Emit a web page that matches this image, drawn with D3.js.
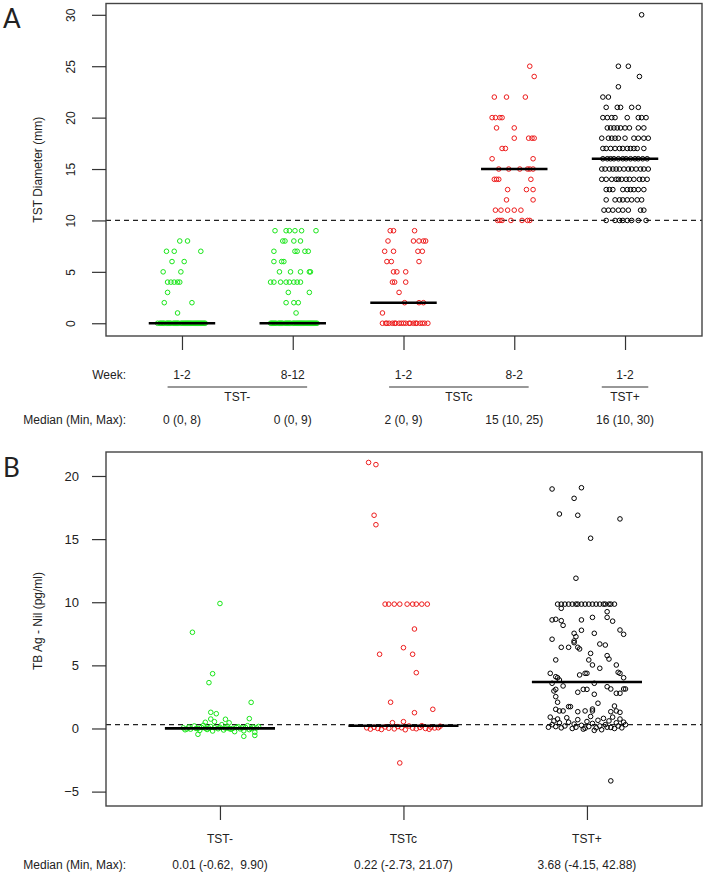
<!DOCTYPE html>
<html><head><meta charset="utf-8">
<script src="https://cdn.jsdelivr.net/npm/d3@7"></script>
<style>
body{margin:0;background:#fff}
svg{display:block}
text{font-family:"Liberation Sans",Arial,sans-serif;fill:#222}
</style>
</head><body>
<svg id="c" width="706" height="877"></svg>
<script>
// ---------------- DATA ----------------
// Panel A: TST diameter (mm); rows of [value, [horizontal jitter offsets in category units]]
const yTicksA = [0, 5, 10, 15, 20, 25, 30];
const weekLabelsA = ["1-2", "8-12", "1-2", "8-2", "1-2"];
const groupNamesA = ["TST-", "TSTc", "TST+"];
const groupSpanA = [[1, 2], [3, 4], [5, 5]];
const medianTextA = ["0 (0, 8)", "0 (0, 9)", "2 (0, 9)", "15 (10, 25)", "16 (10, 30)"];
const mediansA = [0, 0, 2, 15, 16];
const cutoffA = 10;

const tstNegWk1 = [
  [8, [-0.02, 0.05]],
  [7, [-0.14, -0.07, 0.17]],
  [6, [-0.09, 0.02]],
  [5, [-0.17, -0.01]],
  [4, [-0.13, -0.10, -0.07, -0.04, -0.02]],
  [3, [-0.13]],
  [2, [-0.16, 0.09]],
  [1, [-0.04]],
  [0, [-0.22, -0.2, -0.19, -0.17, -0.16, -0.14, -0.13, -0.11, -0.1, -0.08, -0.07, -0.05, -0.04, -0.03, -0.01, 0, 0.02, 0.03, 0.04, 0.06,
       0.07, 0.09, 0.1, 0.11, 0.13, 0.14, 0.16, 0.17, 0.19, 0.2, 0.21, -0.18, -0.12, -0.06, 0.01, 0.05, 0.08, 0.12, 0.15, 0.18]]
];
const tstNegWk8 = [
  [9, [-0.16, -0.06, -0.03, 0.02, 0.08, 0.21]],
  [8, [-0.09, -0.07, 0.01, 0.07]],
  [7, [-0.17, 0.02, 0.04, 0.11, 0.14]],
  [6, [-0.17, -0.1, -0.08]],
  [5, [-0.12, -0.02, 0.07, 0.15, 0.16]],
  [4, [-0.2, -0.17, -0.11, -0.06, -0.03, 0.01, 0.04, 0.07]],
  [3, [-0.04, 0.15]],
  [2, [-0.06, 0.01, 0.05]],
  [1, [0.03]],
  [0, [-0.2, -0.19, -0.17, -0.16, -0.15, -0.13, -0.12, -0.1, -0.09, -0.07, -0.06, -0.04, -0.03, -0.02, 0, 0.01, 0.03, 0.04, 0.06, 0.07,
       0.08, 0.1, 0.11, 0.12, 0.14, 0.15, 0.17, 0.18, 0.19, 0.21, 0.22, -0.18, -0.11, -0.05, 0.02, 0.05, 0.09, 0.13, 0.16, 0.2]]
];
const tstConvWk1 = [
  [9, [-0.12, -0.09, 0.1]],
  [8, [-0.14, 0.09, 0.14, 0.18, 0.2]],
  [7, [-0.17, -0.09, 0.13, 0.17]],
  [6, [-0.15, -0.11, 0.14]],
  [5, [-0.09, -0.06, 0.02]],
  [4, [-0.1, -0.08, 0.02]],
  [3, [-0.04]],
  [2, [0.01, 0.14, 0.18]],
  [1, [-0.19]],
  [0, [-0.19, -0.16, -0.15, -0.13, -0.1, -0.08, -0.07, -0.04, -0.02, 0, 0.02, 0.05, 0.06, 0.09, 0.11, 0.12, 0.15, 0.17, 0.19, 0.22]]
];
const tstConvWk8 = [
  [25, [0.14]],
  [24, [0.18]],
  [22, [-0.18, -0.07, 0.1]],
  [20, [-0.2, -0.17, -0.13, -0.11]],
  [19, [-0.16, 0]],
  [18, [0, 0.13, 0.16, 0.18]],
  [17, [-0.11, -0.08]],
  [16, [-0.2, 0.17]],
  [15, [-0.14, -0.05, 0.05, 0.12, 0.14, 0.17]],
  [14, [-0.18, -0.16, -0.14, 0.15]],
  [13, [-0.06, 0.11, 0.17]],
  [12, [-0.07, 0.17]],
  [11, [-0.17, -0.12, -0.06, 0, 0.06]],
  [10, [-0.15, -0.13, -0.11, -0.03, 0.07, 0.12, 0.14]]
];
const tstPosWk1 = [
  [30, [0.15]],
  [25, [-0.06, 0.03]],
  [24, [0.13]],
  [23, [-0.06]],
  [22, [-0.2, -0.15]],
  [21, [-0.17, -0.07, -0.04, 0.06, 0.12]],
  [20, [-0.2, -0.16, -0.12, -0.09, 0.02, 0.12, 0.15, 0.19]],
  [19, [-0.16, -0.13, -0.1, -0.07, -0.04, 0, 0.04, 0.12, 0.17]],
  [18, [-0.21, -0.15, -0.12, -0.09, -0.06, 0, 0.08, 0.12, 0.17, 0.21]],
  [17, [-0.2, -0.17, -0.13, -0.09, -0.05, -0.02, 0.02, 0.05, 0.08, 0.11, 0.17]],
  [16, [-0.2, -0.16, -0.13, -0.1, -0.06, -0.02, 0.01, 0.05, 0.09, 0.12, 0.16, 0.2]],
  [15, [-0.21, -0.18, -0.14, -0.11, -0.08, -0.05, -0.01, 0.03, 0.06, 0.1, 0.14, 0.17, 0.21]],
  [14, [-0.21, -0.17, -0.12, -0.08, -0.06, -0.03, 0.01, 0.04, 0.08, 0.13, 0.16, 0.2]],
  [13, [-0.17, -0.14, -0.11, -0.02, 0.02, 0.05, 0.08, 0.12, 0.17]],
  [12, [-0.17, -0.09, -0.05, -0.02, 0.02, 0.06, 0.11, 0.15]],
  [11, [-0.19, -0.15, -0.11, -0.06, -0.02, 0.03, 0.14, 0.17]],
  [10, [-0.17, -0.09, -0.05, -0.02, 0.02, 0.06, 0.12, 0.19]]
];

// Panel B: TB Ag - Nil; points of [value, jitter offset in category units]
const yTicksB = [-5, 0, 5, 10, 15, 20];
const groupNamesB = ["TST-", "TSTc", "TST+"];
const medianTextB = ["0.01 (-0.62,  9.90)", "0.22 (-2.73, 21.07)", "3.68 (-4.15, 42.88)"];
const mediansB = [0.01, 0.22, 3.68];
const cutoffB = 0.3;

const igraNeg = [
  [9.9, 0], [7.62, -0.15], [4.34, -0.04], [3.63, -0.06], [2.07, 0.17], [1.28, -0.05], [1.17, -0.02], [0.73, 0.03], [0.78, 0.16],
  [0.75, -0.05], [0.49, -0.08], [0.54, -0.03], [0.45, 0.05], [-0.46, -0.12], [-0.62, 0.13], [-0.55, 0.19],
  [0.05, -0.2], [-0.1, -0.19], [0.12, -0.17], [-0.05, -0.16], [0.2, -0.14], [0, -0.13], [-0.15, -0.11], [0.08, -0.1], [0.25, -0.09],
  [-0.08, -0.07], [0.02, -0.06], [0.15, -0.05], [-0.2, -0.04], [0.06, -0.03], [-0.02, -0.01], [0.1, 0], [0.3, 0.01], [-0.12, 0.02],
  [0.03, 0.03], [0.18, 0.04], [-0.06, 0.06], [0.01, 0.07], [-0.25, 0.08], [0.09, 0.09], [0.14, 0.1], [-0.03, 0.11], [0.04, 0.12],
  [-0.18, 0.13], [0.07, 0.14], [0.22, 0.15], [-0.09, 0.16], [0, 0.17], [0.11, 0.18], [-0.3, 0.19], [0.05, 0.2], [0.16, 0.21],
  [-0.04, -0.18], [0.01, -0.12], [-0.01, 0.05], [0.02, -0.08]
];
const igraConv = [
  [21.07, -0.19], [20.9, -0.15], [16.89, -0.16], [16.14, -0.15],
  [9.85, -0.1], [9.85, -0.08], [9.85, -0.05], [9.85, -0.02], [9.85, 0.02], [9.85, 0.05], [9.85, 0.07], [9.85, 0.1], [9.85, 0.13],
  [7.88, 0.06], [6.4, 0], [5.88, -0.13], [5.88, 0.05], [4.42, 0.07], [2.08, -0.07], [1.52, 0.16], [1.25, 0.06], [0.54, 0], [0.46, -0.06],
  [-2.73, -0.02],
  [0.05, -0.2], [-0.05, -0.18], [0.1, -0.16], [0, -0.14], [-0.08, -0.12], [0.12, -0.1], [0.02, -0.08], [-0.03, -0.05], [0.15, -0.03],
  [0.06, -0.01], [-0.1, 0.01], [0.2, 0.03], [0.03, 0.05], [-0.02, 0.07], [0.08, 0.09], [0.22, 0.1], [0, 0.12], [-0.06, 0.14],
  [0.1, 0.15], [0.04, 0.17], [0.18, 0.2], [0.06, 0.19]
];
const igraPos = [
  [18.97, -0.19], [19.07, -0.03], [18.23, -0.07], [16.99, -0.15], [16.89, -0.05], [16.6, 0.18], [15.07, 0.02], [11.9, -0.06],
  [9.85, -0.16], [9.85, -0.14], [9.85, -0.12], [9.85, -0.1], [9.85, -0.08], [9.85, -0.06], [9.85, -0.05], [9.85, -0.03], [9.85, -0.01],
  [9.85, 0.01], [9.85, 0.03], [9.85, 0.05], [9.85, 0.07], [9.85, 0.09], [9.85, 0.1], [9.85, 0.12], [9.85, 0.13], [9.85, 0.15],
  [9.52, -0.14], [9.25, 0.11], [8.8, 0.11], [8.8, 0.03], [8.6, -0.19], [8.65, -0.17], [8.54, -0.14], [8.17, -0.13], [8.6, -0.03], [8.5, 0.14],
  [7.78, -0.03], [7.54, -0.07], [7.27, -0.06], [7.54, 0.04], [7.8, 0.18], [7.46, 0.2], [7.07, -0.19], [6.93, -0.07], [6.8, -0.07],
  [6.69, 0.07], [6.61, 0.1], [6.43, -0.14], [6.43, -0.1], [6.43, -0.05], [6.3, -0.04], [5.95, 0.02], [5.43, -0.17], [5.43, 0.01],
  [5.03, 0.03], [4.77, 0.07], [5.77, 0.11], [5.5, 0.12], [5.03, 0.16], [4.37, -0.2], [4.1, -0.17], [4.02, -0.16], [3.84, -0.15],
  [4.24, -0.04], [4.37, -0.01], [4.37, 0], [4.45, 0.17], [4.37, 0.18], [4.02, 0.2],
  [3.58, -0.19], [3.37, -0.13], [2.97, -0.18], [3.1, -0.17], [2.87, -0.05], [3.1, -0.02], [3.1, 0], [3.58, 0.04], [2.71, 0.04],
  [3.31, 0.11], [3.13, 0.13], [2.79, 0.16], [3.13, 0.2], [3.13, 0.21], [2.79, 0.18], [2.52, -0.17], [2.08, -0.16], [1.52, -0.17],
  [1.39, -0.15], [1.39, -0.13], [1.73, -0.1], [1.73, -0.09], [1.33, -0.05], [1.39, -0.01], [1.39, 0.03], [1.54, 0.03], [2.0, 0.06],
  [1.78, 0.15], [1.33, 0.13], [1.39, 0.16], [1.28, 0.18], [-4.15, 0.13],
  [0.9, -0.2], [0.6, -0.18], [0.3, -0.19], [0.1, -0.21], [0.75, -0.16], [0.45, -0.15], [0.05, -0.14], [0.2, -0.12], [0.85, -0.11],
  [0.5, -0.1], [0, -0.08], [0.35, -0.07], [0.1, -0.06], [0.7, -0.05], [0.25, -0.03], [-0.05, -0.02], [0.55, 0], [0.15, 0.01],
  [0.95, 0.02], [0.4, 0.03], [0.05, 0.05], [0.65, 0.06], [0.2, 0.07], [-0.1, 0.08], [0.8, 0.09], [0.3, 0.1], [0.1, 0.11], [0.6, 0.12],
  [0.9, 0.14], [0, 0.15], [0.45, 0.16], [0.2, 0.17], [0.75, 0.18], [0.05, 0.19], [0.5, 0.2], [0.3, 0.21], [0.15, -0.17], [0.02, -0.01],
  [0.08, 0.13], [-0.15, 0.04]
];

// ---------------- DRAW ----------------
const GREEN = "#19e619", RED = "#ee1c1c", BLACK = "#000";
const svg = d3.select("#c");
svg.append("rect").attr("width", 706).attr("height", 877).attr("fill", "#fff");

const R = 2.3;
function drawPoints(g, pts, x, y, color) {
  g.selectAll(null).data(pts).enter().append("circle")
    .attr("cx", d => x(d.x)).attr("cy", d => y(d.v)).attr("r", R)
    .attr("fill", "none").attr("stroke", color).attr("stroke-width", 1);
}

// ===== Panel A =====
const A = {x0: 106, x1: 702, y0: 3.5, y1: 336};
const xA = d3.scaleLinear().domain([0.314, 5.695]).range([A.x0, A.x1]);
const yA = d3.scaleLinear().domain([-1.24, 31.1]).range([A.y1, A.y0]);
const groupsA = [
  {pos: 1, rows: tstNegWk1, color: GREEN},
  {pos: 2, rows: tstNegWk8, color: GREEN},
  {pos: 3, rows: tstConvWk1, color: RED},
  {pos: 4, rows: tstConvWk8, color: RED},
  {pos: 5, rows: tstPosWk1, color: BLACK}
];
const gA = svg.append("g");
gA.append("line").attr("x1", A.x0).attr("x2", A.x1).attr("y1", yA(cutoffA)).attr("y2", yA(cutoffA))
  .attr("stroke", "#222").attr("stroke-width", 1.2).attr("stroke-dasharray", "5,4");
groupsA.forEach((g, i) => {
  const pts = [];
  g.rows.forEach(([v, offs]) => offs.forEach(o => pts.push({v, x: g.pos + o})));
  drawPoints(gA, pts, xA, yA, g.color);
});
groupsA.forEach((g, i) => {
  gA.append("line").attr("x1", xA(g.pos - 0.3)).attr("x2", xA(g.pos + 0.3))
    .attr("y1", yA(mediansA[i])).attr("y2", yA(mediansA[i])).attr("stroke", "#000").attr("stroke-width", 2.6);
});
gA.append("rect").attr("x", A.x0).attr("y", A.y0).attr("width", A.x1 - A.x0).attr("height", A.y1 - A.y0)
  .attr("fill", "none").attr("stroke", "#444").attr("stroke-width", 1.4);

const axYA = gA.append("g").attr("transform", `translate(${A.x0},0)`)
  .call(d3.axisLeft(yA).tickValues(yTicksA).tickSize(14));
axYA.select(".domain").remove();
axYA.selectAll(".tick line").attr("stroke", "#333").attr("stroke-width", 1.2);
axYA.selectAll(".tick text").attr("transform", "rotate(-90)").attr("x", 0).attr("y", -31).attr("dy", 0)
  .attr("text-anchor", "middle").attr("font-size", 12).attr("font-family", "Liberation Sans, Arial, sans-serif").attr("fill", "#222");

const axXA = gA.append("g").attr("transform", `translate(0,${A.y1})`)
  .call(d3.axisBottom(xA).tickValues([1, 2, 3, 4, 5]).tickSize(14).tickFormat(""));
axXA.select(".domain").remove();
axXA.selectAll(".tick line").attr("stroke", "#333").attr("stroke-width", 1.2);

gA.append("text").attr("x", 3).attr("y", 28).attr("font-size", 26)
  .style("font-family", "Lato, 'Open Sans', sans-serif").text("A");
gA.append("text").attr("transform", `translate(42,${(A.y0 + A.y1) / 2}) rotate(-90)`)
  .attr("text-anchor", "middle").attr("font-size", 12).text("TST Diameter (mm)");

const rowWeekY = 379, rowLineY = 387, rowGroupY = 401, rowMedY = 424;
gA.append("text").attr("x", 126).attr("y", rowWeekY).attr("text-anchor", "end").attr("font-size", 12).text("Week:");
gA.selectAll(null).data(weekLabelsA).enter().append("text")
  .attr("x", (d, i) => xA(i + 1)).attr("y", rowWeekY).attr("text-anchor", "middle").attr("font-size", 12).text(d => d);
groupSpanA.forEach(([a, b], i) => {
  const pad = a === b ? 0.21 : 0.13;
  gA.append("line").attr("x1", xA(a - pad)).attr("x2", xA(b + pad)).attr("y1", rowLineY).attr("y2", rowLineY)
    .attr("stroke", "#333").attr("stroke-width", 1.2);
  gA.append("text").attr("x", xA((a + b) / 2)).attr("y", rowGroupY).attr("text-anchor", "middle")
    .attr("font-size", 12).text(groupNamesA[i]);
});
gA.append("text").attr("x", 126).attr("y", rowMedY).attr("text-anchor", "end").attr("font-size", 12).text("Median (Min, Max):");
gA.selectAll(null).data(medianTextA).enter().append("text")
  .attr("x", (d, i) => xA(i + 1)).attr("y", rowMedY).attr("text-anchor", "middle").attr("font-size", 12).text(d => d);

// ===== Panel B =====
const B = {x0: 106, x1: 702, y0: 452, y1: 806};
const xB = d3.scaleLinear().domain([0.379, 3.627]).range([B.x0, B.x1]);
const yB = d3.scaleLinear().domain([-6.14, 21.9]).range([B.y1, B.y0]);
const groupsB = [
  {pos: 1, pts: igraNeg, color: GREEN},
  {pos: 2, pts: igraConv, color: RED},
  {pos: 3, pts: igraPos, color: BLACK}
];
const gB = svg.append("g");
gB.append("line").attr("x1", B.x0).attr("x2", B.x1).attr("y1", yB(cutoffB)).attr("y2", yB(cutoffB))
  .attr("stroke", "#222").attr("stroke-width", 1.2).attr("stroke-dasharray", "5,4");
groupsB.forEach(g => {
  drawPoints(gB, g.pts.map(([v, o]) => ({v, x: g.pos + o})), xB, yB, g.color);
});
groupsB.forEach((g, i) => {
  gB.append("line").attr("x1", xB(g.pos - 0.3)).attr("x2", xB(g.pos + 0.3))
    .attr("y1", yB(mediansB[i])).attr("y2", yB(mediansB[i])).attr("stroke", "#000").attr("stroke-width", 2.6);
});
gB.append("rect").attr("x", B.x0).attr("y", B.y0).attr("width", B.x1 - B.x0).attr("height", B.y1 - B.y0)
  .attr("fill", "none").attr("stroke", "#444").attr("stroke-width", 1.4);

const axYB = gB.append("g").attr("transform", `translate(${B.x0},0)`)
  .call(d3.axisLeft(yB).tickValues(yTicksB).tickSize(14).tickPadding(13));
axYB.select(".domain").remove();
axYB.selectAll(".tick line").attr("stroke", "#333").attr("stroke-width", 1.2);
axYB.selectAll(".tick text").attr("font-size", 13).attr("font-family", "Liberation Sans, Arial, sans-serif").attr("fill", "#222");

const axXB = gB.append("g").attr("transform", `translate(0,${B.y1})`)
  .call(d3.axisBottom(xB).tickValues([1, 2, 3]).tickSize(14).tickFormat(""));
axXB.select(".domain").remove();
axXB.selectAll(".tick line").attr("stroke", "#333").attr("stroke-width", 1.2);

gB.append("text").attr("x", 3).attr("y", 477).attr("font-size", 26)
  .style("font-family", "Lato, 'Open Sans', sans-serif").text("B");
gB.append("text").attr("transform", `translate(42,${(B.y0 + B.y1) / 2 - 8}) rotate(-90)`)
  .attr("text-anchor", "middle").attr("font-size", 12).text("TB Ag - Nil (pg/ml)");

const rowGroupBY = 843, rowMedBY = 869;
gB.selectAll(null).data(groupNamesB).enter().append("text")
  .attr("x", (d, i) => xB(i + 1)).attr("y", rowGroupBY).attr("text-anchor", "middle").attr("font-size", 12).text(d => d);
gB.append("text").attr("x", 126).attr("y", rowMedBY).attr("text-anchor", "end").attr("font-size", 12).text("Median (Min, Max):");
gB.selectAll(null).data(medianTextB).enter().append("text")
  .attr("x", (d, i) => xB(i + 1)).attr("y", rowMedBY).attr("text-anchor", "middle").attr("font-size", 12)
  .style("white-space", "pre").text(d => d);
</script>
</body></html>
